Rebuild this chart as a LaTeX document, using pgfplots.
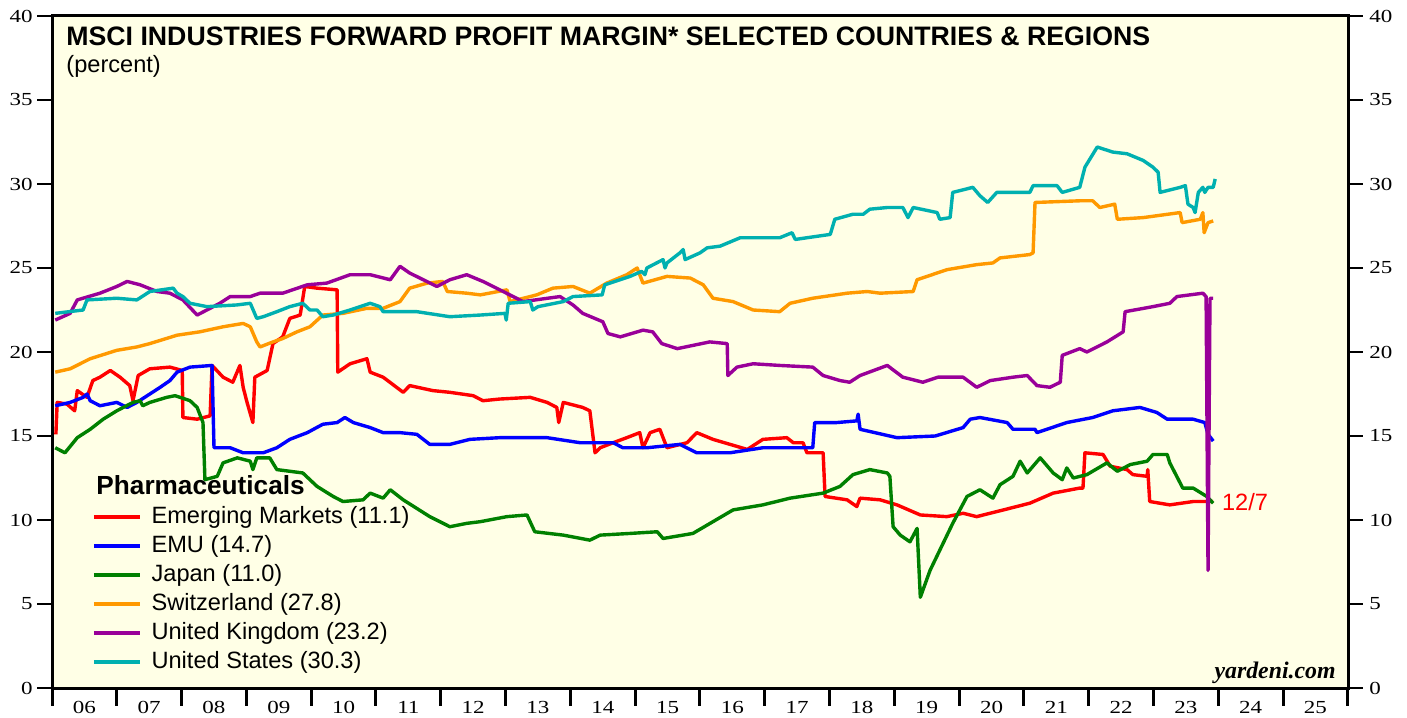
\documentclass[border=0pt]{standalone}
\usepackage{pgfplots}
\pgfplotsset{compat=1.18}
\usepackage{fontspec}
\setmainfont{Liberation Sans}
\newfontfamily\tickfont{Liberation Serif}[FakeStretch=1.25]
\newfontfamily\yfont{Liberation Serif}
\definecolor{bgyellow}{RGB}{255,255,230}
\definecolor{cEM}{RGB}{255,0,0}
\definecolor{cEMU}{RGB}{0,0,255}
\definecolor{cJP}{RGB}{0,128,0}
\definecolor{cCH}{RGB}{255,153,0}
\definecolor{cUK}{RGB}{153,0,153}
\definecolor{cUS}{RGB}{0,176,176}
\begin{document}
\begin{tikzpicture}
\useasboundingbox (-26pt,-14.5pt) rectangle (677.5pt,344pt);
\begin{axis}[
  at={(0pt,0pt)}, anchor=south west,
  scale only axis, width=648pt, height=336pt,
  xmin=2006, xmax=2026, ymin=0, ymax=40,
  axis background/.style={fill=bgyellow},
  axis line style={line width=1.5pt},
  xtick={2006,2007,...,2026},
  xticklabels={06,07,08,09,10,11,12,13,14,15,16,17,18,19,20,21,22,23,24,25,{}},
  xtick pos=bottom, tick align=outside, major tick length=9pt,
  x tick style={line width=1.5pt, black},
  xticklabel style={xshift=16.2pt, yshift=2.2pt, inner sep=0pt, text height=6pt, text depth=0pt, anchor=north, font=\tickfont\fontsize{9.2}{10}\selectfont},
  /pgf/number format/assume math mode=true,
  ytick=\empty,
  legend cell align=left,
  legend image code/.code={\draw[#1] (0pt,0pt) -- (23pt,0pt);},
  legend style={at={(0.0310,0.2708)}, anchor=north west, draw=none, fill=none,
    inner sep=0pt, outer sep=0pt, font=\fontsize{11.8}{13}\selectfont, row sep=3.5pt,
    nodes={inner sep=0pt, text height=8.6pt, text depth=2.4pt},
    /tikz/every odd column/.append style={column sep=5pt}},
  every axis plot/.append style={line width=1.7pt, line join=round},
]
% Emerging Markets
\addplot[cEM] coordinates {
(2006.06,15.1)(2006.08,17.0)(2006.23,16.9)(2006.35,16.5)(2006.39,17.7)(2006.54,17.3)(2006.63,18.3)(2006.74,18.5)(2006.90,18.9)(2007.05,18.5)(2007.20,18.0)(2007.25,17.1)(2007.33,18.6)(2007.51,19.0)(2007.82,19.1)(2008.01,18.9)(2008.02,16.1)(2008.24,16.0)(2008.44,16.2)(2008.47,19.2)(2008.64,18.5)(2008.79,18.2)(2008.90,19.2)(2008.95,17.9)(2009.01,17.0)(2009.10,15.8)(2009.13,18.5)(2009.32,18.9)(2009.41,20.5)(2009.56,20.9)(2009.67,22.0)(2009.83,22.2)(2009.90,23.9)(2010.09,23.8)(2010.40,23.7)(2010.41,18.8)(2010.60,19.3)(2010.86,19.6)(2010.91,18.8)(2011.11,18.5)(2011.42,17.6)(2011.52,18.0)(2011.88,17.7)(2012.14,17.6)(2012.50,17.4)(2012.65,17.1)(2012.91,17.2)(2013.38,17.3)(2013.64,17.0)(2013.79,16.7)(2013.82,15.8)(2013.89,17.0)(2014.19,16.7)(2014.30,16.5)(2014.38,14.0)(2014.46,14.3)(2014.66,14.6)(2014.87,14.9)(2015.07,15.2)(2015.12,14.3)(2015.23,15.2)(2015.38,15.4)(2015.49,14.3)(2015.80,14.6)(2015.95,15.2)(2016.20,14.8)(2016.73,14.2)(2016.97,14.8)(2017.34,14.9)(2017.44,14.6)(2017.59,14.6)(2017.65,14.0)(2017.90,14.0)(2017.93,11.4)(2018.27,11.2)(2018.42,10.8)(2018.47,11.3)(2018.78,11.2)(2019.04,10.9)(2019.40,10.3)(2019.81,10.2)(2020.06,10.4)(2020.27,10.2)(2020.58,10.5)(2021.09,11.0)(2021.45,11.6)(2021.86,11.9)(2021.91,11.9)(2021.94,14.0)(2022.22,13.9)(2022.33,13.2)(2022.59,13.0)(2022.68,12.7)(2022.90,12.6)(2022.91,13.0)(2022.94,11.1)(2023.25,10.9)(2023.61,11.1)(2023.92,11.1)
};
\addlegendentry{Emerging Markets (11.1)}
% EMU
\addplot[cEMU] coordinates {
(2006.05,16.8)(2006.28,17.0)(2006.48,17.3)(2006.54,17.5)(2006.59,17.1)(2006.74,16.8)(2007.00,17.0)(2007.16,16.7)(2007.31,17.0)(2007.51,17.5)(2007.67,17.9)(2007.82,18.3)(2007.93,18.8)(2008.13,19.1)(2008.47,19.2)(2008.50,14.3)(2008.75,14.3)(2008.95,14.0)(2009.26,14.0)(2009.47,14.3)(2009.67,14.8)(2009.94,15.2)(2010.18,15.7)(2010.40,15.8)(2010.52,16.1)(2010.65,15.8)(2010.91,15.5)(2011.11,15.2)(2011.37,15.2)(2011.63,15.1)(2011.83,14.5)(2012.14,14.5)(2012.45,14.8)(2012.91,14.9)(2013.11,14.9)(2013.64,14.9)(2014.15,14.6)(2014.66,14.6)(2014.81,14.3)(2015.18,14.3)(2015.69,14.5)(2015.95,14.0)(2016.46,14.0)(2016.97,14.3)(2017.74,14.3)(2017.77,15.8)(2018.11,15.8)(2018.42,15.9)(2018.44,16.3)(2018.47,15.4)(2019.04,14.9)(2019.63,15.0)(2020.06,15.5)(2020.17,16.0)(2020.32,16.1)(2020.74,15.8)(2020.83,15.4)(2021.17,15.4)(2021.20,15.2)(2021.66,15.8)(2022.06,16.1)(2022.37,16.5)(2022.79,16.7)(2023.05,16.4)(2023.21,16.0)(2023.61,16.0)(2023.79,15.8)(2023.84,15.1)(2023.92,14.7)
};
\addlegendentry{EMU (14.7)}
% Japan
\addplot[cJP] coordinates {
(2006.05,14.3)(2006.20,14.0)(2006.39,14.9)(2006.59,15.4)(2006.79,16.0)(2007.00,16.5)(2007.25,17.0)(2007.36,17.1)(2007.40,16.8)(2007.51,17.0)(2007.77,17.3)(2007.90,17.4)(2008.13,17.1)(2008.24,16.7)(2008.33,15.8)(2008.36,12.4)(2008.55,12.6)(2008.64,13.4)(2008.86,13.7)(2009.06,13.5)(2009.10,13.0)(2009.16,13.7)(2009.36,13.7)(2009.47,13.0)(2009.87,12.8)(2010.09,12.0)(2010.34,11.4)(2010.49,11.1)(2010.80,11.2)(2010.91,11.6)(2011.11,11.3)(2011.22,11.8)(2011.42,11.2)(2011.83,10.2)(2012.14,9.6)(2012.40,9.8)(2012.61,9.9)(2013.02,10.2)(2013.33,10.3)(2013.45,9.3)(2013.89,9.1)(2014.30,8.8)(2014.46,9.1)(2014.92,9.2)(2015.34,9.3)(2015.43,8.9)(2015.89,9.2)(2016.20,9.9)(2016.51,10.6)(2016.97,10.9)(2017.39,11.3)(2017.90,11.6)(2018.16,12.0)(2018.36,12.7)(2018.62,13.0)(2018.89,12.8)(2018.93,12.6)(2018.98,9.6)(2019.09,9.1)(2019.24,8.7)(2019.35,9.5)(2019.40,5.4)(2019.55,7.0)(2019.70,8.2)(2019.90,9.8)(2020.12,11.4)(2020.32,11.8)(2020.52,11.3)(2020.63,12.1)(2020.83,12.6)(2020.94,13.5)(2021.05,12.8)(2021.25,13.7)(2021.45,12.8)(2021.59,12.4)(2021.66,13.1)(2021.76,12.5)(2021.97,12.7)(2022.28,13.4)(2022.44,12.9)(2022.64,13.3)(2022.90,13.5)(2022.99,13.9)(2023.21,13.9)(2023.25,13.4)(2023.45,11.9)(2023.61,11.9)(2023.82,11.4)(2023.92,11.0)
};
\addlegendentry{Japan (11.0)}
% Switzerland
\addplot[cCH] coordinates {
(2006.05,18.8)(2006.28,19.0)(2006.59,19.6)(2007.00,20.1)(2007.31,20.3)(2007.51,20.5)(2007.93,21.0)(2008.28,21.2)(2008.64,21.5)(2008.95,21.7)(2009.06,21.5)(2009.16,20.6)(2009.21,20.3)(2009.41,20.6)(2009.56,20.8)(2009.78,21.2)(2009.98,21.5)(2010.18,22.2)(2010.49,22.3)(2010.86,22.6)(2011.11,22.6)(2011.37,23.0)(2011.52,23.8)(2011.79,24.1)(2012.03,24.2)(2012.10,23.6)(2012.40,23.5)(2012.61,23.4)(2013.02,23.7)(2013.07,23.0)(2013.48,23.4)(2013.73,23.8)(2014.04,23.9)(2014.30,23.5)(2014.56,24.1)(2014.87,24.6)(2015.03,25.0)(2015.12,24.1)(2015.49,24.5)(2015.85,24.4)(2016.05,24.0)(2016.20,23.2)(2016.51,23.0)(2016.82,22.5)(2017.23,22.4)(2017.39,22.9)(2017.74,23.2)(2018.27,23.5)(2018.58,23.6)(2018.78,23.5)(2019.29,23.6)(2019.35,24.3)(2019.81,24.9)(2020.27,25.2)(2020.52,25.3)(2020.63,25.6)(2021.09,25.8)(2021.14,25.9)(2021.17,28.9)(2021.86,29.0)(2022.06,29.0)(2022.17,28.6)(2022.40,28.8)(2022.44,27.9)(2022.84,28.0)(2023.41,28.3)(2023.44,27.7)(2023.72,27.9)(2023.76,28.3)(2023.78,27.1)(2023.84,27.7)(2023.92,27.8)
};
\addlegendentry{Switzerland (27.8)}
% United Kingdom
\addplot[cUK] coordinates {
(2006.05,21.9)(2006.28,22.3)(2006.39,23.1)(2006.74,23.5)(2007.00,23.9)(2007.16,24.2)(2007.36,24.0)(2007.62,23.6)(2007.82,23.5)(2008.02,23.1)(2008.24,22.2)(2008.44,22.6)(2008.59,22.9)(2008.75,23.3)(2009.06,23.3)(2009.21,23.5)(2009.56,23.5)(2009.94,24.0)(2010.24,24.1)(2010.60,24.6)(2010.91,24.6)(2011.22,24.3)(2011.37,25.1)(2011.52,24.7)(2011.94,23.9)(2012.14,24.3)(2012.40,24.6)(2012.65,24.2)(2012.91,23.7)(2013.27,23.0)(2013.84,23.3)(2014.04,22.8)(2014.19,22.3)(2014.50,21.8)(2014.58,21.1)(2014.77,20.9)(2015.12,21.3)(2015.27,21.2)(2015.41,20.5)(2015.65,20.2)(2016.15,20.6)(2016.42,20.5)(2016.43,18.6)(2016.57,19.1)(2016.82,19.3)(2017.23,19.2)(2017.74,19.1)(2017.90,18.6)(2018.16,18.3)(2018.31,18.2)(2018.47,18.6)(2018.89,19.2)(2019.13,18.5)(2019.44,18.2)(2019.67,18.5)(2020.06,18.5)(2020.27,17.9)(2020.48,18.3)(2020.83,18.5)(2021.05,18.6)(2021.20,18.0)(2021.40,17.9)(2021.56,18.2)(2021.59,19.8)(2021.86,20.2)(2021.97,20.0)(2022.28,20.6)(2022.53,21.2)(2022.56,22.4)(2022.99,22.7)(2023.25,22.9)(2023.36,23.3)(2023.76,23.5)(2023.81,23.3)(2023.84,7.0)(2023.87,23.2)(2023.92,23.2)
};
\addlegendentry{United Kingdom (23.2)}
% United States
\addplot[cUS] coordinates {
(2006.05,22.3)(2006.48,22.5)(2006.54,23.1)(2007.00,23.2)(2007.31,23.1)(2007.51,23.6)(2007.87,23.8)(2007.93,23.5)(2008.02,23.3)(2008.13,22.9)(2008.39,22.7)(2008.85,22.8)(2009.06,22.9)(2009.16,22.0)(2009.26,22.1)(2009.47,22.4)(2009.67,22.7)(2009.87,22.9)(2009.98,22.5)(2010.09,22.5)(2010.18,22.1)(2010.34,22.2)(2010.60,22.5)(2010.91,22.9)(2011.06,22.7)(2011.11,22.4)(2011.63,22.4)(2012.14,22.1)(2012.61,22.2)(2012.99,22.3)(2013.01,21.9)(2013.04,22.9)(2013.38,23.0)(2013.42,22.5)(2013.50,22.7)(2013.89,23.0)(2014.04,23.3)(2014.49,23.4)(2014.53,24.0)(2014.92,24.5)(2015.10,24.8)(2015.15,24.6)(2015.18,25.0)(2015.43,25.5)(2015.46,25.0)(2015.49,25.3)(2015.69,25.9)(2015.74,26.1)(2015.77,25.5)(2016.00,25.9)(2016.11,26.2)(2016.31,26.3)(2016.62,26.8)(2017.23,26.8)(2017.42,27.1)(2017.47,26.7)(2018.01,27.0)(2018.08,27.9)(2018.36,28.2)(2018.52,28.2)(2018.62,28.5)(2018.89,28.6)(2019.13,28.6)(2019.21,28.0)(2019.29,28.6)(2019.66,28.3)(2019.70,27.9)(2019.86,28.0)(2019.90,29.5)(2020.21,29.8)(2020.32,29.3)(2020.44,28.9)(2020.58,29.5)(2020.83,29.5)(2021.09,29.5)(2021.14,29.9)(2021.51,29.9)(2021.59,29.5)(2021.86,29.8)(2021.94,31.0)(2022.13,32.2)(2022.37,31.9)(2022.59,31.8)(2022.84,31.4)(2022.99,31.0)(2023.07,30.7)(2023.10,29.5)(2023.41,29.8)(2023.49,29.9)(2023.53,28.8)(2023.61,28.6)(2023.64,28.3)(2023.69,29.5)(2023.76,29.8)(2023.79,29.5)(2023.84,29.8)(2023.92,29.8)(2023.95,30.3)
};
\addlegendentry{United States (30.3)}
\node[anchor=base west, inner sep=0pt, font=\bfseries\fontsize{13.35}{15}\selectfont] at (rel axis cs:0.0108,0.9568) {MSCI INDUSTRIES FORWARD PROFIT MARGIN* SELECTED COUNTRIES \& REGIONS};
\node[anchor=base west, inner sep=0pt, font=\fontsize{11.8}{13}\selectfont] at (rel axis cs:0.0108,0.9152) {(percent)};
\node[anchor=base west, inner sep=0pt, font=\bfseries\fontsize{13.1}{15}\selectfont] at (rel axis cs:0.034,0.2872) {Pharmaceuticals};
\node[anchor=base east, inner sep=0pt, font=\yfont\bfseries\itshape\fontsize{11.9}{13}\selectfont] at (rel axis cs:0.9907,0.0134) {yardeni.com};
\node[anchor=west, inner sep=0pt, text=cEM, font=\fontsize{11.8}{13}\selectfont] at (axis cs:2024.05,11.07) {12/7};
\end{axis}
% left y axis ticks and labels
\begin{axis}[
  at={(0pt,0pt)}, anchor=south west,
  scale only axis, width=648pt, height=336pt,
  xmin=2006, xmax=2026, ymin=0, ymax=40,
  axis x line=none, axis y line*=left,
  axis line style={line width=1.5pt},
  ytick={0,5,...,40}, tick align=outside, major tick length=7.5pt,
  y tick style={line width=0.8pt, black},
  /pgf/number format/assume math mode=true,
  yticklabel style={inner sep=2pt, font=\tickfont\fontsize{9.2}{10}\selectfont},
]
\end{axis}
% right y axis ticks and labels
\begin{axis}[
  at={(0pt,0pt)}, anchor=south west,
  scale only axis, width=648pt, height=336pt,
  xmin=2006, xmax=2026, ymin=0, ymax=40,
  axis x line=none, axis y line*=right,
  axis line style={line width=1.5pt},
  ytick={0,5,...,40}, tick align=outside, major tick length=7.5pt,
  y tick style={line width=0.8pt, black},
  /pgf/number format/assume math mode=true,
  yticklabel style={inner sep=3pt, font=\tickfont\fontsize{9.2}{10}\selectfont},
]
\end{axis}
\end{tikzpicture}
\end{document}
